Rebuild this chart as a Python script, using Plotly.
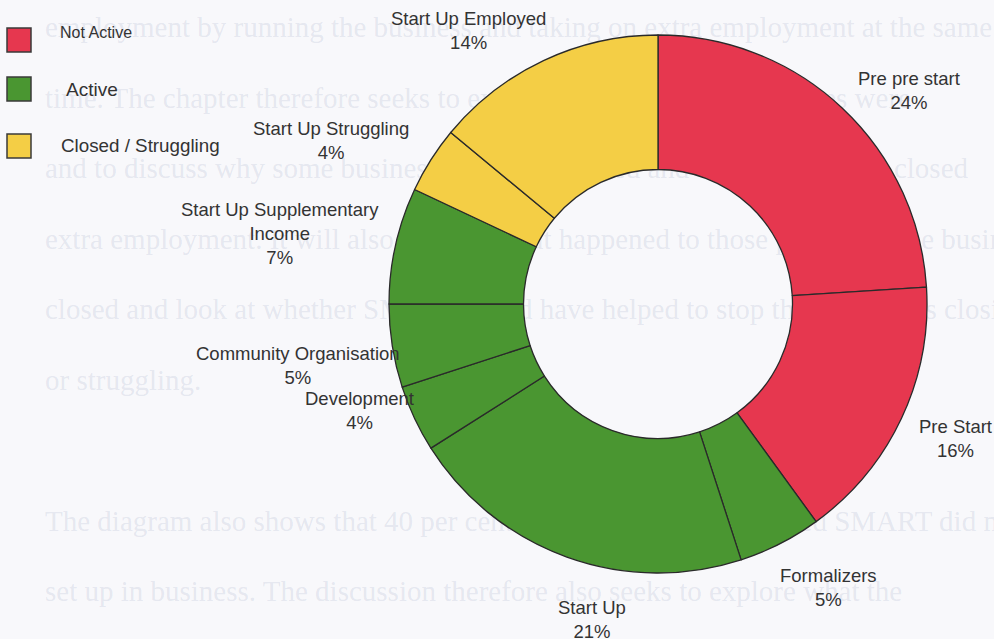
import plotly.graph_objects as go

# Share of SMART clients by business stage (clockwise from 12 o'clock)
stages = [
    "Pre pre start", "Pre Start", "Formalizers", "Start Up", "Development",
    "Community Organisation", "Start Up Supplementary Income",
    "Start Up Struggling", "Start Up Employed",
]
shares = [24, 16, 5, 21, 4, 5, 7, 4, 14]
status = [
    "Not Active", "Not Active", "Active", "Active", "Active",
    "Active", "Active", "Closed / Struggling", "Closed / Struggling",
]

status_names = ["Not Active", "Active", "Closed / Struggling"]
status_colors = {"Not Active": "#E6374F", "Active": "#4A9631", "Closed / Struggling": "#F4CE45"}

# Slice label text, with line breaks as printed
label_text = {
    "Pre pre start": "Pre pre start",
    "Pre Start": "Pre Start",
    "Formalizers": "Formalizers",
    "Start Up": "Start Up",
    "Development": "Development",
    "Community Organisation": "Community Organisation",
    "Start Up Supplementary Income": "Start Up Supplementary<br>Income",
    "Start Up Struggling": "Start Up Struggling",
    "Start Up Employed": "Start Up Employed",
}

# Label block centres (pixels from top-left of the page)
label_pos = {
    "Pre pre start": (909, 90),
    "Pre Start": (955, 438),
    "Formalizers": (828, 587),
    "Start Up": (592, 619),
    "Development": (359, 410),
    "Community Organisation": (298, 365),
    "Start Up Supplementary Income": (280, 234),
    "Start Up Struggling": (331, 140),
    "Start Up Employed": (468, 30),
}

# Body text of the page the chart is printed on
page_lines = [
    "employment by running the business and taking on extra employment at the same",
    "time. The chapter therefore seeks to explore what types of businesses were",
    "and to discuss why some businesses have struggled and why others have closed",
    "extra employment. It will also explore what happened to those people whose business",
    "closed and look at whether SMART could have helped to stop the businesses closing",
    "or struggling.",
    "",
    "The diagram also shows that 40 per cent of people who approached SMART did not",
    "set up in business. The discussion therefore also seeks to explore what the",
]

W, H = 994, 639
CX, CY, R = 658, 304, 269


def px(x):
    return x / W


def py(y):
    return 1 - y / H


fig = go.Figure()

# page text sits on the cartesian layer, underneath the doughnut
text_rows = [(line, 30 + i * 70.5) for i, line in enumerate(page_lines) if line]
fig.add_trace(go.Scatter(
    x=[45] * len(text_rows),
    y=[r[1] for r in text_rows],
    text=[r[0] for r in text_rows],
    mode="text",
    textposition="middle right",
    textfont=dict(family="Liberation Serif", size=29, color="rgba(110,122,165,0.15)"),
    hoverinfo="skip",
    showlegend=False,
    cliponaxis=False,
))

fig.add_trace(go.Pie(
    labels=stages,
    values=shares,
    sort=False,
    direction="clockwise",
    rotation=0,
    hole=0.5,
    marker=dict(colors=[status_colors[s] for s in status],
                line=dict(color="#2a2a2a", width=1.3)),
    textinfo="none",
    hoverinfo="label+percent",
    showlegend=False,
    domain=dict(x=[px(CX - R), px(CX + R)], y=[py(CY + R), py(CY - R)]),
))

annotations = []

# slice labels with percentages
total = sum(shares)
for name, val in zip(stages, shares):
    x, y = label_pos[name]
    annotations.append(dict(
        x=px(x), y=py(y), xref="paper", yref="paper",
        xanchor="center", yanchor="middle", showarrow=False,
        text=f"{label_text[name]}<br>{round(100 * val / total)}%",
        font=dict(family="Liberation Sans", size=18.5, color="#333333"),
    ))

# status key
key_rows = {"Not Active": (40, 58, 16), "Active": (89, 64, 19), "Closed / Struggling": (146, 59, 18.8)}
shapes = []
for s in status_names:
    yc, tx, fs = key_rows[s]
    shapes.append(dict(
        type="rect", xref="paper", yref="paper",
        x0=px(7), x1=px(31), y0=py(yc - 12), y1=py(yc + 12),
        fillcolor=status_colors[s], line=dict(color="#3a3a3a", width=1.5),
    ))
    annotations.append(dict(
        x=px(tx), y=py(yc - 7 if s == "Not Active" else yc), xref="paper", yref="paper",
        xanchor="left", yanchor="middle", showarrow=False, text=s,
        font=dict(family="Liberation Sans", size=fs, color="#333333"),
    ))

fig.update_layout(
    width=W, height=H,
    margin=dict(l=0, r=0, t=0, b=0),
    paper_bgcolor="#F8F8FB",
    plot_bgcolor="rgba(0,0,0,0)",
    xaxis=dict(range=[0, W], visible=False, fixedrange=True),
    yaxis=dict(range=[H, 0], visible=False, fixedrange=True),
    annotations=annotations,
    shapes=shapes,
)

fig.write_html("out.html")
